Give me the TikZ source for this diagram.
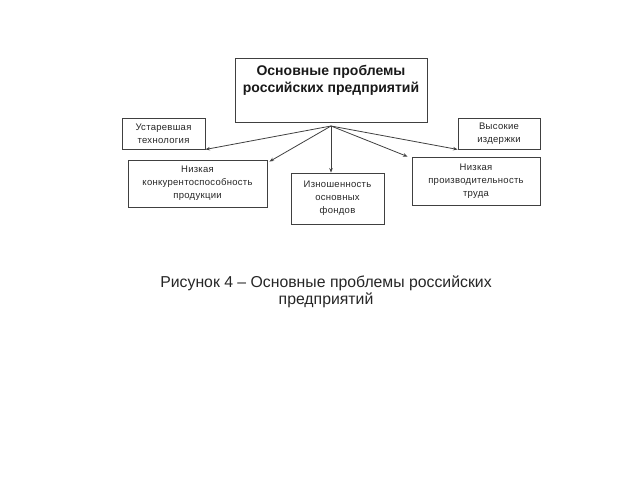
\documentclass[tikz,border=0pt]{standalone}
\usepackage{fontspec}
\setmainfont{Liberation Sans}
\usetikzlibrary{arrows.meta}
\begin{document}
\begin{tikzpicture}[x=1pt,y=-1pt,
  box/.style={draw=black!75,line width=0.9pt,rectangle,inner sep=0pt,align=center,
    font=\fontsize{9.5}{13}\selectfont\addfontfeature{LetterSpace=3},text=black!85},
  conn/.style={draw=black!75,line width=0.8pt,-{Stealth[length=4.5pt,width=3.5pt]}}]
\useasboundingbox (0,0) rectangle (640,480);
\node[draw=black!75,line width=0.9pt,minimum width=192pt,minimum height=64pt,inner sep=0pt] (main) at (331,90) {};
\node[align=center,font=\fontsize{14}{17.5}\bfseries\selectfont,text=black!90,inner sep=0pt] (title) at (331,80.5) {Основные проблемы\\российских предприятий};
\coordinate (hub) at (331,126);
\node[box,minimum width=83pt,minimum height=31pt] (old) at (163.5,133.5) {Устаревшая\\технология};
\node[box,minimum width=82pt,minimum height=31pt] (cost) at (499,133.5) {Высокие\\издержки};
\node[box,minimum width=139pt,minimum height=47pt] (comp) at (197.5,183.5) {Низкая\\конкурентоспособность\\продукции};
\node[box,minimum width=93pt,minimum height=51pt] (wear) at (337.5,198.5) {Изношенность\\основных\\фондов};
\node[box,minimum width=128pt,minimum height=48pt] (prod) at (476,181) {Низкая\\производительность\\труда};
\draw[conn] (hub) -- (old.south east);
\draw[conn] (hub) -- ([xshift=2pt,yshift=-2pt]comp.north east);
\draw[conn] (hub) -- (hub |- wear.north);
\draw[conn] (hub) -- ([xshift=-4pt]prod.north west);
\draw[conn] (hub) -- (cost.south west);
\node[align=center,font=\fontsize{15.8}{17}\selectfont,text=black!85,inner sep=0pt] (cap) at (326,291.5) {Рисунок 4 – Основные проблемы российских\\предприятий};
\end{tikzpicture}
\end{document}
